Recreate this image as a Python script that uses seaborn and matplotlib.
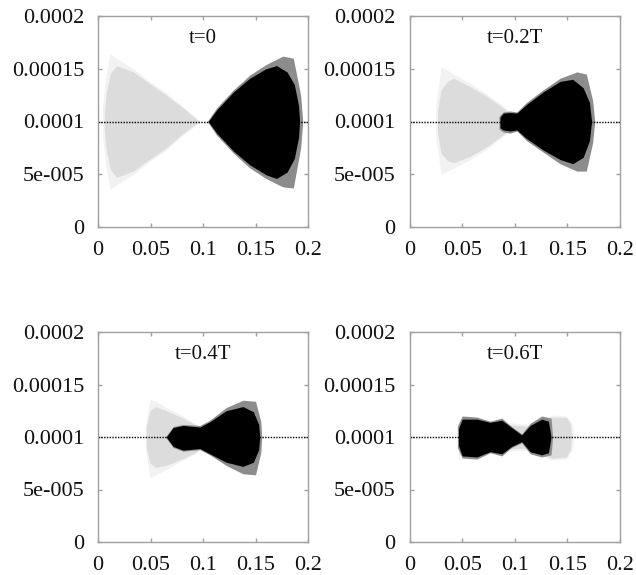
import matplotlib
matplotlib.use("Agg")
import matplotlib.pyplot as plt
import seaborn as sns
import pandas as pd

# Values are envelopes, (x, upper, lower), y in units of 1e-4
titles = ["t=0", "t=0.2T", "t=0.4T", "t=0.6T"]
xticks = [0, 0.05, 0.1, 0.15, 0.2]
xlabels = ["0", "0.05", "0.1", "0.15", "0.2"]
yticks = [0, 5e-5, 1e-4, 1.5e-4, 2e-4]
ylabels = ["0", "5e-005", "0.0001", "0.00015", "0.0002"]
ref_x = [0, 0.2]
ref_y = [1e-4, 1e-4]

g0_x = [0.006, 0.008, 0.012, 0.0177, 0.0336, 0.049, 0.065, 0.081, 0.094, 0.097]
g0_u = [1.08, 1.28, 1.46, 1.53, 1.47, 1.36, 1.25, 1.13, 1.02, 1.00]
g0_l = [0.92, 0.72, 0.54, 0.47, 0.53, 0.64, 0.75, 0.89, 0.985, 1.00]
g0o_x = [0.004, 0.007, 0.0114, 0.0177, 0.0336, 0.049, 0.065, 0.081, 0.094, 0.098]
g0o_u = [1.10, 1.40, 1.64, 1.60, 1.50, 1.38, 1.27, 1.14, 1.03, 1.00]
g0o_l = [0.90, 0.60, 0.36, 0.40, 0.50, 0.62, 0.73, 0.87, 0.97, 1.00]
b0_x = [0.105, 0.113, 0.129, 0.1445, 0.160, 0.170, 0.180, 0.187, 0.191, 0.192]
b0_u = [1.00, 1.11, 1.28, 1.41, 1.50, 1.53, 1.47, 1.35, 1.15, 1.00]
b0_l = [1.00, 0.89, 0.72, 0.59, 0.495, 0.46, 0.52, 0.65, 0.85, 1.00]
b0o_x = [0.104, 0.113, 0.129, 0.1445, 0.160, 0.176, 0.186, 0.193, 0.195]
b0o_u = [1.00, 1.13, 1.30, 1.44, 1.54, 1.62, 1.60, 1.25, 1.00]
b0o_l = [1.00, 0.87, 0.70, 0.56, 0.46, 0.38, 0.37, 0.75, 1.00]

g1_x = [0.0266, 0.030, 0.036, 0.042, 0.0576, 0.0734, 0.089, 0.0987]
g1_u = [1.10, 1.30, 1.38, 1.41, 1.33, 1.24, 1.13, 1.05]
g1_l = [0.90, 0.70, 0.63, 0.61, 0.67, 0.76, 0.875, 0.95]
g1o_x = [0.025, 0.030, 0.042, 0.0576, 0.0734, 0.089, 0.0987]
g1o_u = [1.15, 1.52, 1.45, 1.36, 1.26, 1.15, 1.06]
g1o_l = [0.85, 0.50, 0.56, 0.64, 0.74, 0.86, 0.94]
b1_x = [0.086, 0.089, 0.0956, 0.102, 0.111, 0.127, 0.143, 0.155, 0.165, 0.171, 0.173]
b1_u = [1.04, 1.08, 1.085, 1.08, 1.16, 1.28, 1.38, 1.40, 1.32, 1.18, 1.00]
b1_l = [0.94, 0.92, 0.91, 0.92, 0.84, 0.73, 0.64, 0.60, 0.66, 0.82, 1.00]
b1o_x = [0.085, 0.089, 0.0956, 0.102, 0.111, 0.127, 0.143, 0.159, 0.168, 0.174, 0.176]
b1o_u = [1.05, 1.09, 1.10, 1.09, 1.18, 1.30, 1.41, 1.47, 1.45, 1.20, 1.00]
b1o_l = [0.93, 0.90, 0.89, 0.91, 0.82, 0.71, 0.60, 0.53, 0.53, 0.80, 1.00]

g2_x = [0.046, 0.0495, 0.055, 0.065, 0.081, 0.094, 0.102]
g2_u = [1.10, 1.25, 1.29, 1.25, 1.18, 1.11, 1.05]
g2_l = [0.90, 0.75, 0.71, 0.73, 0.795, 0.86, 0.95]
g2o_x = [0.045, 0.0495, 0.055, 0.065, 0.081, 0.094, 0.102]
g2o_u = [1.10, 1.36, 1.34, 1.28, 1.20, 1.12, 1.06]
g2o_l = [0.90, 0.61, 0.64, 0.69, 0.78, 0.85, 0.94]
b2_x = [0.065, 0.0716, 0.081, 0.097, 0.1065, 0.122, 0.138, 0.148, 0.153, 0.154]
b2_u = [1.00, 1.09, 1.11, 1.095, 1.145, 1.25, 1.29, 1.24, 1.12, 1.00]
b2_l = [1.00, 0.91, 0.875, 0.89, 0.84, 0.76, 0.72, 0.76, 0.88, 1.00]
b2o_x = [0.064, 0.0716, 0.081, 0.097, 0.1065, 0.122, 0.138, 0.150, 0.155, 0.156]
b2o_u = [1.00, 1.10, 1.12, 1.11, 1.16, 1.28, 1.35, 1.34, 1.15, 1.00]
b2o_l = [1.00, 0.90, 0.865, 0.88, 0.83, 0.73, 0.65, 0.64, 0.85, 1.00]

g3_x = [0.047, 0.102, 0.115, 0.135, 0.149, 0.153, 0.154]
g3_u = [1.15, 1.11, 1.10, 1.19, 1.186, 1.12, 1.00]
g3_l = [0.85, 0.89, 0.89, 0.795, 0.81, 0.88, 1.00]
g3o_x = [0.046, 0.102, 0.115, 0.135, 0.149, 0.155, 0.156]
g3o_u = [1.17, 1.13, 1.12, 1.21, 1.20, 1.12, 1.00]
g3o_l = [0.82, 0.87, 0.87, 0.78, 0.79, 0.88, 1.00]
b3_x = [0.0465, 0.050, 0.064, 0.0766, 0.0877, 0.097, 0.1066, 0.1146, 0.1256, 0.132, 0.1345]
b3_u = [1.08, 1.17, 1.17, 1.14, 1.16, 1.09, 1.02, 1.11, 1.17, 1.15, 1.00]
b3_l = [0.92, 0.82, 0.81, 0.86, 0.84, 0.91, 0.955, 0.86, 0.83, 0.85, 1.00]
b3o_x = [0.0455, 0.050, 0.064, 0.0766, 0.0877, 0.097, 0.1066, 0.1146, 0.1256, 0.1345, 0.136]
b3o_u = [1.10, 1.20, 1.19, 1.15, 1.18, 1.10, 1.03, 1.13, 1.20, 1.18, 1.00]
b3o_l = [0.90, 0.80, 0.79, 0.85, 0.82, 0.90, 0.945, 0.84, 0.81, 0.83, 1.00]

panels = [
    ((g0o_x, g0o_u, g0o_l), (g0_x, g0_u, g0_l), (b0o_x, b0o_u, b0o_l), (b0_x, b0_u, b0_l)),
    ((g1o_x, g1o_u, g1o_l), (g1_x, g1_u, g1_l), (b1o_x, b1o_u, b1o_l), (b1_x, b1_u, b1_l)),
    ((g2o_x, g2o_u, g2o_l), (g2_x, g2_u, g2_l), (b2o_x, b2o_u, b2o_l), (b2_x, b2_u, b2_l)),
    ((g3o_x, g3o_u, g3o_l), (g3_x, g3_u, g3_l), (b3o_x, b3o_u, b3o_l), (b3_x, b3_u, b3_l)),
]
layer_colors = ["#f2f2f2", "#dcdcdc", "#8c8c8c", "#000000"]

sns.set_theme(style="ticks")
plt.rcParams["font.family"] = ["Liberation Serif", "DejaVu Serif"]

W, H = 636, 575
fig = plt.figure(figsize=(W / 100, H / 100), dpi=100)
boxes = [(98, 16, 308, 227), (409.5, 16, 620, 227), (98, 332, 308, 542), (409.5, 332, 620, 542)]
GREY = "#a0a0a0"

for box, title, layers in zip(boxes, titles, panels):
    l, t, r, b = box
    ax = fig.add_axes([l / W, 1 - b / H, (r - l) / W, (b - t) / H])
    for (xs, up, lo), color in zip(layers, layer_colors):
        frame = pd.DataFrame({"x": xs, "u": [v * 1e-4 for v in up], "l": [v * 1e-4 for v in lo]})
        ax.fill_between(frame["x"], frame["l"], frame["u"], color=color, lw=0)
    sns.lineplot(x=ref_x, y=ref_y, ax=ax, color="black", lw=1.0, linestyle=(0, (1, 1)), zorder=1.5)
    ax.set_xlim(0, 0.2)
    ax.set_ylim(0, 2e-4)
    ax.set_xticks(xticks, xlabels)
    ax.set_yticks(yticks, ylabels)
    ax.tick_params(axis="both", direction="in", length=3, width=1, color=GREY,
                   top=True, right=True, labelsize=16, labelcolor="#111111")
    ax.tick_params(axis="x", pad=10)
    ax.tick_params(axis="y", pad=10)
    for s in ax.spines.values():
        s.set_color(GREY)
        s.set_linewidth(1.0)
    ax.text(0.5, 0.895, title, transform=ax.transAxes, ha="center", va="center",
            fontsize=15, color="#111111")

fig.savefig("out.png", dpi=100)
